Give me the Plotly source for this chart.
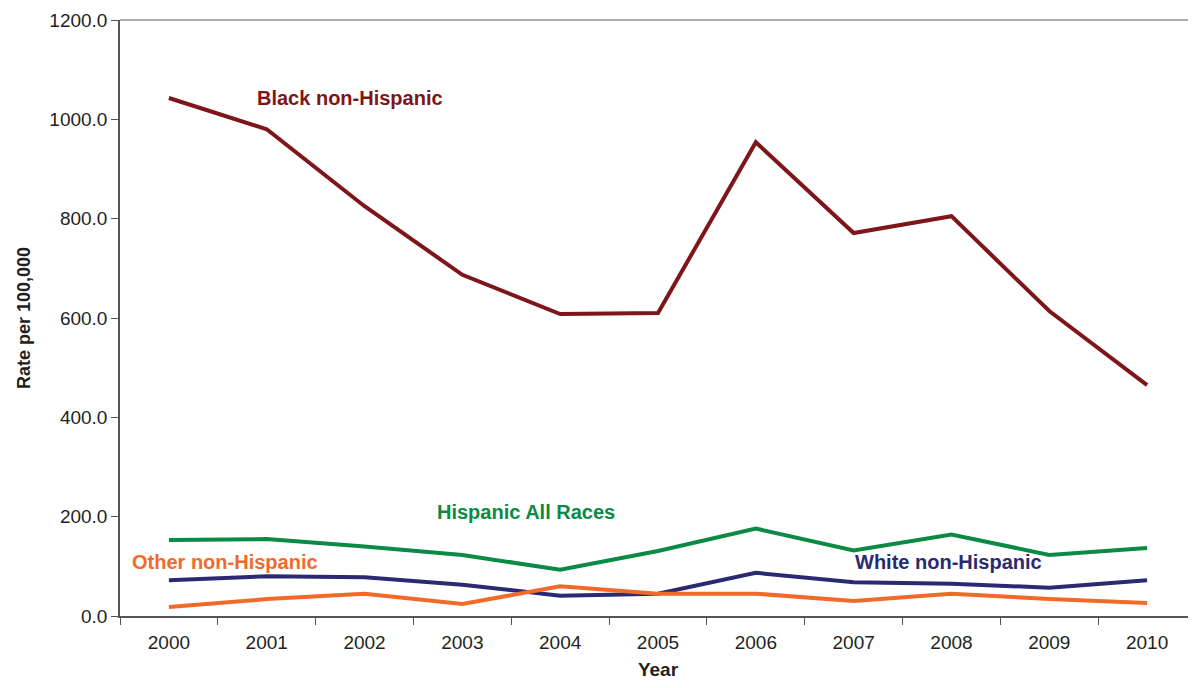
import plotly.graph_objects as graph_objects

# Chart data
years = ["2000", "2001", "2002", "2003", "2004", "2005",
         "2006", "2007", "2008", "2009", "2010"]
black_non_hispanic = [1043, 980, 825, 687, 608, 610, 954, 771, 805, 614, 465]
hispanic_all_races = [153, 155, 140, 123, 93, 131, 176, 132, 164, 123, 137]
white_non_hispanic = [72, 80, 78, 63, 41, 45, 87, 68, 65, 57, 72]
other_non_hispanic = [18, 34, 45, 24, 60, 45, 45, 30, 45, 34, 26]

series_names = ["Black non-Hispanic", "Hispanic All Races",
                "White non-Hispanic", "Other non-Hispanic"]
series_values = [black_non_hispanic, hispanic_all_races,
                 white_non_hispanic, other_non_hispanic]
series_colors = ["#7E1519", "#0B8A45", "#2A2A72", "#F26A2A"]

# where each series label sits (category index, value)
label_spots = [(1.85, 1042), (3.65, 209), (7.97, 108), (0.57, 108)]

fig = graph_objects.Figure()

for name, values, color in zip(series_names, series_values, series_colors):
    fig.add_trace(
        graph_objects.Scatter(
            x=years,
            y=values,
            mode="lines",
            name=name,
            line=dict(color=color, width=4),
            showlegend=False,
        )
    )

for name, color, (lx, ly) in zip(series_names, series_colors, label_spots):
    fig.add_annotation(
        x=lx, y=ly, text="<b>%s</b>" % name, showarrow=False,
        font=dict(family="Liberation Sans, Arial", size=20, color=color),
    )

# light grey line along the top of the plot area
fig.add_shape(
    type="line", xref="paper", yref="paper", x0=0, x1=1, y0=1, y1=1,
    line=dict(color="#ABABAB", width=2),
)

fig.update_layout(
    width=1188,
    height=672,
    plot_bgcolor="white",
    paper_bgcolor="white",
    margin=dict(l=112, r=0, t=12, b=64),
    font=dict(family="Liberation Sans, Arial", size=19, color="#231F20"),
    xaxis=dict(
        type="category",
        range=[-0.5, 10.5],
        automargin=False,
        title=dict(text="<b>Year</b>", font=dict(size=19), standoff=16),
        showline=True,
        linecolor="#555555",
        linewidth=1.5,
        ticks="outside",
        tickson="boundaries",
        ticklen=7,
        tickcolor="#555555",
        ticklabelstandoff=8,
        showgrid=False,
        zeroline=False,
    ),
    yaxis=dict(
        title=dict(text="<b>Rate per 100,000</b>", font=dict(size=18), standoff=14),
        range=[0, 1200],
        dtick=200,
        tickformat=".1f",
        showline=True,
        linecolor="#555555",
        linewidth=1.5,
        ticks="outside",
        ticklen=7,
        tickcolor="#555555",
        showgrid=False,
        zeroline=False,
    ),
)

fig.write_html("out.html")
